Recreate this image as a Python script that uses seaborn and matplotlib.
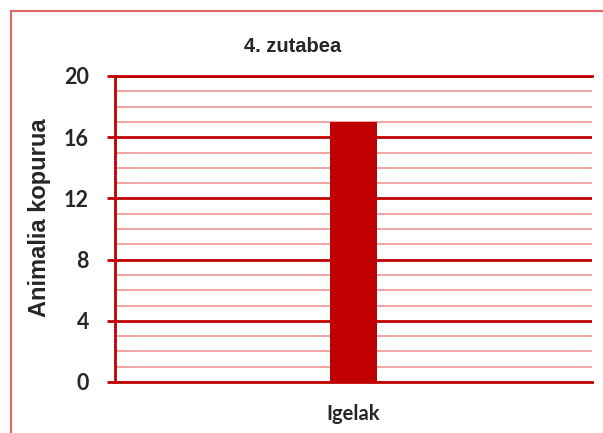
import matplotlib
matplotlib.use('Agg')
import matplotlib.pyplot as plt
import seaborn as sns
import pandas as pd
from matplotlib.ticker import MultipleLocator, FixedLocator
from matplotlib.lines import Line2D

categories = ["Igelak"]
values = [17]
title = "4. zutabea"
ylabel = "Animalia kopurua"
yticks = [0, 4, 8, 12, 16, 20]

sns.set_style("white")
plt.rcParams['font.family'] = ['Liberation Sans', 'DejaVu Sans']

W, H = 603, 433
fig = plt.figure(figsize=(W / 100, H / 100), dpi=100)
ax = fig.add_axes([115 / W, 1 - 382 / H, (592 - 115) / W, (382 - 76) / H])

df = pd.DataFrame({"cat": categories, "val": values})
sns.barplot(data=df, x="cat", y="val", color="#C00000", saturation=1,
            width=0.1, linewidth=0, ax=ax, zorder=3)

ax.set_xlim(-0.5, 0.5)
ax.set_ylim(0, 20)
ax.yaxis.set_major_locator(FixedLocator(yticks))
ax.yaxis.set_minor_locator(MultipleLocator(1))
ax.set_axisbelow(True)
ax.grid(False)
ax.grid(which='minor', axis='y', color='#EE8A8A', lw=1.1, zorder=0)
ax.grid(which='major', axis='y', color='#C00000', lw=2.0, zorder=1)

for s in ['right']:
    ax.spines[s].set_visible(False)
for s in ['left', 'top', 'bottom']:
    ax.spines[s].set_visible(True)
    ax.spines[s].set_color('#C00000')
    ax.spines[s].set_linewidth(2.0)

ax.tick_params(axis='y', which='major', direction='out', length=5.8, width=2,
               color='#C00000', pad=13, left=True)
ax.tick_params(axis='y', which='minor', length=0)
ax.tick_params(axis='x', length=0, pad=16)

for lab in ax.get_yticklabels():
    lab.set_fontfamily(['Lato', 'DejaVu Sans'])
    lab.set_fontweight('bold')
    lab.set_fontsize(15.5)
for lab in ax.get_xticklabels():
    lab.set_fontfamily(['Lato', 'DejaVu Sans'])
    lab.set_fontweight('bold')
    lab.set_fontsize(14.5)

ax.set_xlabel("")
ax.set_ylabel(ylabel, fontsize=17, fontweight='bold')
ax.yaxis.set_label_coords((51 - 115) / 477, (382 - 217.5) / 306)

fig.text(293 / W, 1 - 46 / H, title, ha='center', va='center',
         fontsize=14.5, fontweight='bold', fontstretch='condensed')

# figure border (cropped at right and bottom)
fig.add_artist(Line2D([11 / W, 11 / W], [0, 1 - 11 / H], transform=fig.transFigure,
                      color='#E06666', lw=1.5))
fig.add_artist(Line2D([11 / W, 1], [1 - 11 / H, 1 - 11 / H], transform=fig.transFigure,
                      color='#E06666', lw=1.5))

fig.savefig("out.png", dpi=100)
